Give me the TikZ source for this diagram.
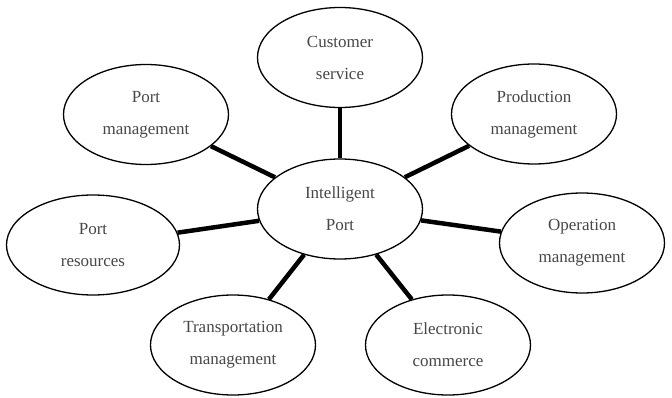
\documentclass[tikz,border=0pt]{standalone}
\usepackage{fontspec}
\setmainfont{Liberation Serif}
\usetikzlibrary{shapes.geometric}

\begin{document}
\begin{tikzpicture}[x=1pt,y=-1pt,
    topic/.style={draw,ellipse,line width=1.3pt,minimum width=165pt,minimum height=100pt,
      inner sep=0pt,align=center,text=black!72,font=\fontsize{17}{32}\selectfont},
    link/.style={line width=4.5pt}]
    \useasboundingbox (0,0) rectangle (672,398);
    % hub and the seven areas around it
    \node[topic] (port) at (340,209) {Intelligent\\Port};
    \node[topic] (cust) at (340,57.5) {Customer\\service};
    \node[topic] (mgmt) at (146,114.5) {Port\\management};
    \node[topic] (prod) at (534,114) {Production\\management};
    \node[topic,minimum width=173pt] (res) at (93,245) {Port\\resources};
    \node[topic] (oper) at (582,243) {Operation\\management};
    \node[topic] (trans) at (233,345) {Transportation\\management};
    \node[topic] (ecom) at (448,345) {Electronic\\commerce};
    \foreach \n in {cust,mgmt,prod,res,oper,trans,ecom}
      \draw[link] (port) -- (\n);
  \end{tikzpicture}
\end{document}
